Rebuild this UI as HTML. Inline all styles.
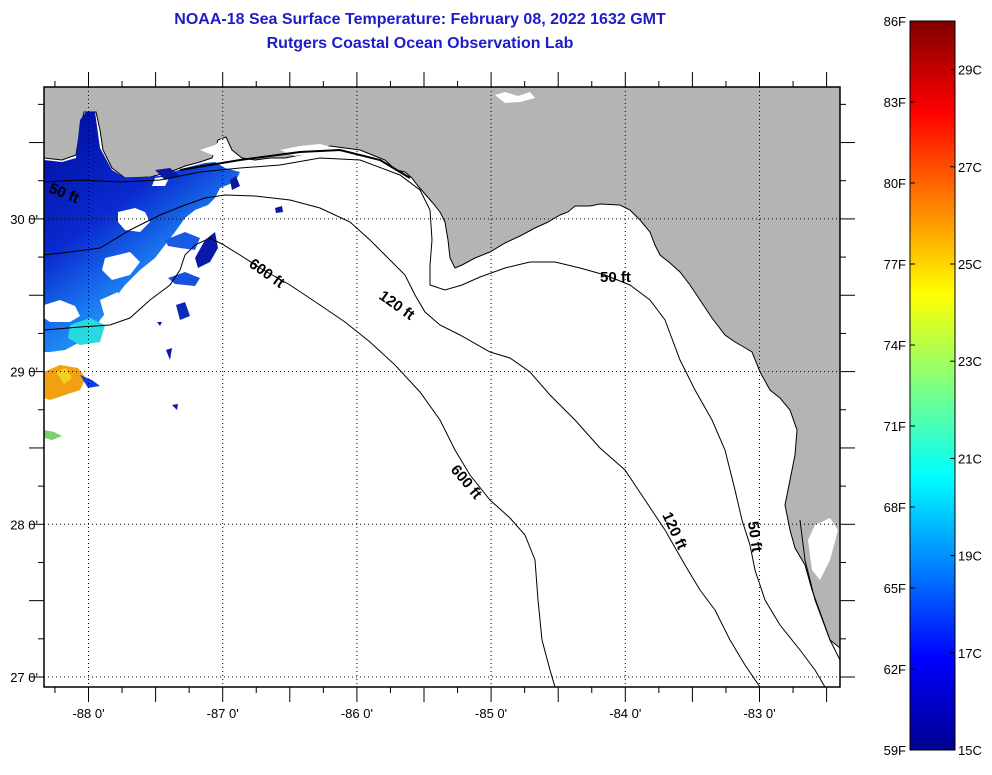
<!DOCTYPE html>
<html><head><meta charset="utf-8">
<style>
html,body{margin:0;padding:0;background:#fff;}
body{width:992px;height:770px;overflow:hidden;font-family:"Liberation Sans",sans-serif;}
svg text{font-family:"Liberation Sans",sans-serif;}
</style></head>
<body>
<svg id="chart" width="992" height="770" viewBox="0 0 992 770" xmlns="http://www.w3.org/2000/svg">
<defs>
<linearGradient id="jet" x1="0" y1="1" x2="0" y2="0">
<stop offset="0" stop-color="#00008f"/>
<stop offset="0.125" stop-color="#0000ff"/>
<stop offset="0.375" stop-color="#00ffff"/>
<stop offset="0.625" stop-color="#ffff00"/>
<stop offset="0.875" stop-color="#ff0000"/>
<stop offset="1" stop-color="#800000"/>
</linearGradient>
<linearGradient id="sstg" x1="0" y1="0" x2="0.6" y2="1">
<stop offset="0" stop-color="#000a9a"/>
<stop offset="0.45" stop-color="#0a2ad0"/>
<stop offset="0.7" stop-color="#1a7af0"/>
<stop offset="1" stop-color="#30c8f0"/>
</linearGradient>
<clipPath id="mapclip"><rect x="44" y="87" width="796" height="600"/></clipPath>
</defs>
<text x="420" y="24" text-anchor="middle" font-size="16" font-weight="bold" fill="#1c1cc8">NOAA-18 Sea Surface Temperature:  February 08, 2022 1632 GMT</text>
<text x="420" y="48" text-anchor="middle" font-size="16" font-weight="bold" fill="#1c1cc8">Rutgers Coastal Ocean Observation Lab</text>

<g clip-path="url(#mapclip)">
<rect x="44" y="87" width="796" height="600" fill="#fff"/>
<path fill="#b4b4b4" stroke="#000" stroke-width="1" d="M44,87 L840,87 L840,648 L830,640 L820,612 L812,590 L805,565 L795,548 L790,530 L785,505 L790,480 L795,455 L797,430 L790,410 L780,398 L770,390 L760,372 L752,352 L742,346 L735,342 L725,335 L712,318 L700,300 L690,285 L680,272 L670,263 L660,255 L655,245 L650,232 L640,220 L630,210 L620,205 L600,204 L590,206 L575,206 L568,212 L560,215 L548,222 L535,228 L520,236 L505,243 L490,252 L475,258 L462,265 L455,268 L450,258 L448,240 L445,222 L440,212 L432,202 L425,194 L418,186 L412,178 L405,172 L396,170 L385,160 L375,156 L360,150 L345,148 L330,146 L315,150 L300,155 L285,158 L270,158 L255,160 L242,158 L232,150 L226,137 L218,140 L212,158 L200,162 L185,166 L170,172 L150,177 L125,178 L112,168 L103,150 L100,130 L96,112 L84,112 L80,130 L76,155 L62,160 L44,158 Z"/>
<path fill="#fff" d="M495,95 L505,92 L518,96 L530,92 L535,98 L520,102 L505,103 Z"/>
<path fill="#fff" d="M200,150 L215,145 L222,138 L226,150 L215,156 Z"/>
<path fill="#fff" d="M280,150 L300,146 L320,144 L335,148 L320,152 L295,156 Z"/>
<path fill="#fff" d="M380,170 L395,175 L405,185 L400,190 L388,182 Z"/>
<path fill="#fff" d="M430,250 L440,245 L447,258 L440,268 L432,262 Z"/>
<path fill="#fff" d="M808,540 L815,525 L830,518 L838,530 L830,560 L820,580 L812,570 Z"/>

<g>
<path fill="url(#sstg)" d="M44,160 L62,162 L76,158 L80,120 L86,112 L95,112 L100,148 L112,170 L125,178 L160,176 L185,168 L205,163 L215,162 L225,168 L240,172 L235,182 L220,188 L215,198 L208,205 L195,210 L185,218 L175,232 L165,245 L155,258 L140,270 L125,285 L115,298 L108,310 L100,320 L95,332 L80,342 L65,350 L50,352 L44,352 Z"/>
<path fill="#fff" d="M118,212 L135,208 L145,212 L150,222 L140,232 L125,230 L118,222 Z"/>
<path fill="#fff" d="M105,258 L130,252 L140,262 L130,275 L112,280 L102,270 Z"/>
<path fill="#fff" d="M44,305 L60,300 L75,306 L80,316 L70,322 L50,322 L44,318 Z"/>
<path fill="#fff" d="M155,178 L170,176 L165,186 L152,186 Z"/>
<path fill="#fff" d="M100,300 L118,292 L120,310 L105,318 Z"/>
<path fill="#2ad8e0" d="M70,325 L90,318 L105,325 L100,342 L80,345 L68,338 Z"/>
<path fill="#f0a010" d="M44,372 L60,365 L78,368 L86,378 L80,390 L62,396 L50,400 L44,398 Z"/>
<path fill="#f6d020" d="M56,372 L66,368 L72,378 L64,384 Z"/>
<path fill="#1040e0" d="M80,375 L92,380 L100,386 L88,388 Z"/>
<path fill="#7cd070" d="M44,430 L54,432 L62,436 L52,440 L44,438 Z"/>
<path fill="#1a5ae8" d="M165,240 L185,232 L200,238 L195,250 L180,248 L168,246 Z"/>
<path fill="#0a1aa8" d="M205,240 L215,232 L218,248 L210,262 L198,268 L195,258 Z"/>
<path fill="#1a50e0" d="M168,278 L185,272 L200,278 L195,286 L175,284 Z"/>
<path fill="#0a2ab8" d="M176,305 L185,302 L190,316 L180,320 Z"/>
<path fill="#0a1aa0" d="M155,170 L170,168 L180,176 L165,180 Z"/>
<path fill="#0a1aa0" d="M230,180 L236,176 L240,186 L232,190 Z"/>
<path fill="#0a1aa0" d="M275,208 L282,206 L283,212 L276,213 Z"/>
<path fill="#0a1aa0" d="M172,405 L178,404 L177,410 Z"/>
<path fill="#0a1aa0" d="M166,350 L172,348 L170,360 Z"/>
<path fill="#0a1aa0" d="M157,322 L162,322 L160,326 Z"/>
</g>

<g id="grid" stroke="#000" stroke-width="1" stroke-dasharray="1,3"></g>

<g fill="none" stroke="#000" stroke-width="1">
<path d="M44,330 L80,327 L110,325 L130,318 L150,300 L170,285 L180,270 L185,255 L195,245 L210,238 L222,244 L240,255 L260,268 L290,285 L320,305 L345,322 L370,342 L395,365 L420,392 L440,420 L455,450 L470,475 L490,500 L510,518 L525,535 L535,560 L538,600 L542,640 L550,670 L555,687"/>
<path d="M44,255 L70,252 L100,248 L130,230 L160,215 L185,205 L205,198 L225,195 L255,196 L290,200 L320,208 L350,222 L370,240 L385,255 L405,275 L415,295 L425,312 L440,325 L460,335 L490,352 L510,358 L530,372 L550,395 L575,420 L600,448 L625,470 L645,500 L665,530 L685,565 L700,590 L715,610 L730,640 L745,665 L760,687"/>
<path d="M44,182 L80,180 L120,182 L160,180 L200,172 L240,168 L280,165 L320,158 L360,160 L400,175 L420,190 L430,210 L432,240 L430,265 L430,285 L445,290 L462,285 L480,277 L505,268 L530,262 L555,262 L580,268 L605,275 L630,285 L650,300 L665,320 L680,360 L695,390 L712,420 L725,450 L735,490 L742,520 L750,545 L755,570 L765,600 L780,625 L800,650 L815,670 L825,687"/>
<path d="M180,170 L240,160 L300,152 L340,150 L380,160 L410,178" stroke-width="2"/>
<path d="M800,520 L805,560 L815,600 L830,640 L840,660"/>
</g>
<g font-weight="bold" font-size="15" fill="#000">
<text transform="translate(48,192) rotate(22)">50 ft</text>
<text transform="translate(248,266) rotate(35)">600 ft</text>
<text transform="translate(378,298) rotate(35)">120 ft</text>
<text transform="translate(600,282)">50 ft</text>
<text transform="translate(450,470) rotate(50)">600 ft</text>
<text transform="translate(662,515) rotate(65)">120 ft</text>
<text transform="translate(748,522) rotate(82)">50 ft</text>
</g>
</g>
<rect x="44" y="87" width="796" height="600" fill="none" stroke="#000" stroke-width="1.5"/>
<g id="axes"></g>

<rect x="910" y="21" width="45" height="729" fill="url(#jet)" stroke="#000" stroke-width="1"/>
<g id="cbticks"></g>
</svg>
<script>
const lonTicks = [-88, -87, -86, -85, -84, -83];
const latTicks = [30, 29, 28, 27];
const fTicks = [86, 83, 80, 77, 74, 71, 68, 65, 62, 59];
const cTicks = [29, 27, 25, 23, 21, 19, 17, 15];
const ns = 'http://www.w3.org/2000/svg';
const xOf = lon => 88.5 + (lon + 88) * 134.2;
const yOf = lat => 677 - (lat - 27) * 152.7;
const fMin = 59, fMax = 86;
const yF = f => 750 - (f - fMin) / (fMax - fMin) * 729;
const yC = c => yF(c * 9 / 5 + 32);
function mk(tag, attrs, parent) {
  const e = document.createElementNS(ns, tag);
  for (const k in attrs) e.setAttribute(k, attrs[k]);
  parent.appendChild(e);
  return e;
}
const grid = document.getElementById('grid');
const axes = document.getElementById('axes');
lonTicks.forEach(lon => {
  const l = mk('line', {x1: xOf(lon), x2: xOf(lon), y1: 87, y2: 687}, grid);
  
  
  const t = mk('text', {x: xOf(lon), y: 718, 'text-anchor': 'middle', 'font-size': 13}, axes);
  t.textContent = lon + ' 0\'';
  
  
});
latTicks.forEach(lat => {
  const l = mk('line', {x1: 44, x2: 840, y1: yOf(lat), y2: yOf(lat)}, grid);
  
  
  const t = mk('text', {x: 38, y: yOf(lat) + 5, 'text-anchor': 'end', 'font-size': 13}, axes);
  t.textContent = lat + ' 0\'';
  
  
});
for (let lon = -88.25; lon <= -82.5; lon += 0.25) {
  const x = xOf(lon); if (x < 44 || x > 840) continue;
  const major = Math.abs(lon * 2 - Math.round(lon * 2)) < 1e-6;
  const len = major ? 15 : 6;
  mk('line', {x1: x, x2: x, y1: 687, y2: 687 + len, stroke: '#000'}, axes);
  mk('line', {x1: x, x2: x, y1: 87, y2: 87 - len, stroke: '#000'}, axes);
}
for (let lat = 26.75; lat <= 30.75; lat += 0.25) {
  const y = yOf(lat); if (y < 87 || y > 687) continue;
  const major = Math.abs(lat * 2 - Math.round(lat * 2)) < 1e-6;
  const len = major ? 15 : 6;
  mk('line', {x1: 44 - len, x2: 44, y1: y, y2: y, stroke: '#000'}, axes);
  mk('line', {x1: 840, x2: 840 + len, y1: y, y2: y, stroke: '#000'}, axes);
}
const cb = document.getElementById('cbticks');
fTicks.forEach(f => {
  const y = yF(f);
  mk('line', {x1: 910, x2: 915, y1: y, y2: y, stroke: '#000'}, cb);
  const t = mk('text', {x: 906, y: y + 5, 'text-anchor': 'end', 'font-size': 13}, cb);
  t.textContent = f + 'F';
  
  
});
cTicks.forEach(c => {
  const y = yC(c);
  mk('line', {x1: 950, x2: 955, y1: y, y2: y, stroke: '#000'}, cb);
  const t = mk('text', {x: 958, y: y + 5, 'font-size': 13}, cb);
  t.textContent = c + 'C';
  
  
});
</script>
</body></html>
